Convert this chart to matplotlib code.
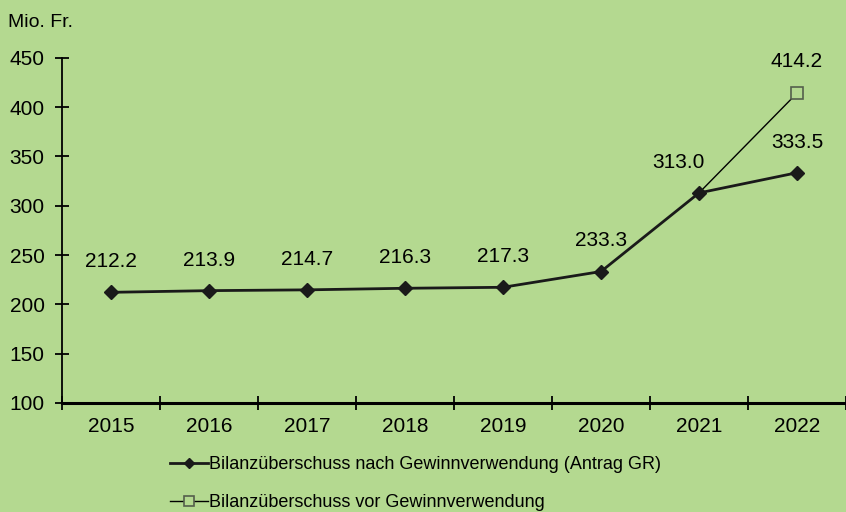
import matplotlib.pyplot as plt
import numpy as np

plt.rcParams['font.family'] = ['Liberation Sans', 'DejaVu Sans']

years = ['2015', '2016', '2017', '2018', '2019', '2020', '2021', '2022']
after_use = [212.2, 213.9, 214.7, 216.3, 217.3, 233.3, 313.0, 333.5]
before_years = ['2021', '2022']
before_use = [313.0, 414.2]

bg = '#b4d990'
fig = plt.figure(figsize=(8.46, 5.12), dpi=100, facecolor=bg)
ax = fig.add_axes([0.0733, 0.213, 0.9267, 0.674], facecolor=bg)

x = np.arange(len(years))
xb = np.array([years.index(y) for y in before_years])

ax.plot(xb, before_use, color='black', lw=1.0, marker='s', ms=9,
        mfc=bg, mec='#555f4c', mew=1.2, markevery=[len(xb) - 1],
        label='Bilanzüberschuss vor Gewinnverwendung', zorder=2)
ax.plot(x, after_use, color='#1a1a1a', lw=2.0, marker='D', ms=7,
        mfc='#1a1a1a', mec='#1a1a1a',
        label='Bilanzüberschuss nach Gewinnverwendung (Antrag GR)', zorder=3)

for i, v in enumerate(after_use):
    dx = -15 if years[i] == '2021' else 0
    ax.annotate(f'{v:.1f}', (x[i], v), xytext=(dx, 22), textcoords='offset points',
                ha='center', va='center', fontsize=15)
ax.annotate(f'{before_use[-1]:.1f}', (xb[-1], before_use[-1]), xytext=(0, 23),
            textcoords='offset points', ha='center', va='center', fontsize=15)

ax.set_xlim(-0.5, len(years) - 0.5)
ax.set_ylim(100, 450)
ax.set_yticks(range(100, 451, 50))
ax.set_xticks(np.arange(-0.5, len(years), 1.0))
ax.set_xticklabels([])
ax.set_xticks(x, minor=True)
ax.set_xticklabels(years, minor=True)
ax.tick_params(axis='x', which='major', direction='inout', length=10, width=1.3)
ax.tick_params(axis='x', which='minor', length=0, pad=10, labelsize=15)
ax.tick_params(axis='y', direction='inout', length=10, width=1.3, labelsize=15, pad=7.5)

for s in ['top', 'right']:
    ax.spines[s].set_visible(False)
ax.spines['left'].set_linewidth(1.3)
ax.spines['bottom'].set_linewidth(2.2)

fig.text(0.009, 0.957, 'Mio. Fr.', fontsize=14, ha='left', va='center')

h, l = ax.get_legend_handles_labels()
fig.legend(h[::-1], l[::-1], loc='center left', bbox_to_anchor=(0.192, 0.055),
           frameon=False, fontsize=13, handlelength=2.1, handletextpad=0.1,
           labelspacing=1.15, borderaxespad=0, markerscale=0.75)

fig.savefig('out.png', dpi=100, facecolor=bg)
